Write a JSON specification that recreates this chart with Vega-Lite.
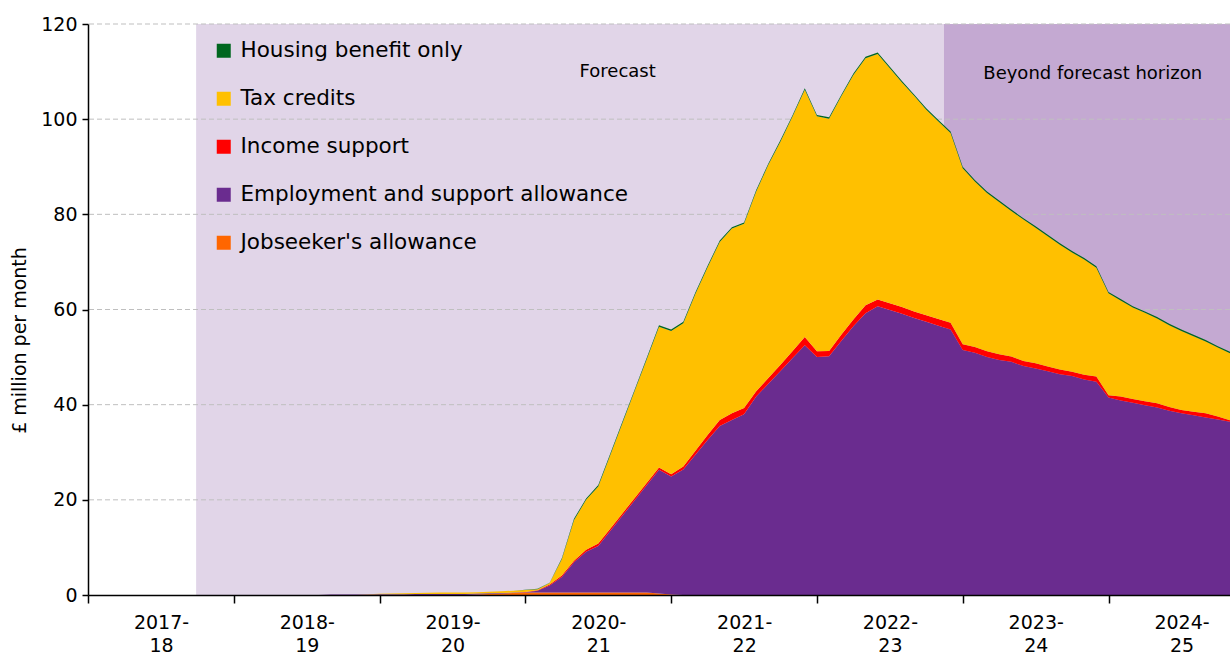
{
  "$schema": "https://vega.github.io/schema/vega-lite/v6.json",
  "width": 1142,
  "height": 571,
  "autosize": {"type": "none"},
  "padding": {"left": 88, "top": 24, "right": 0, "bottom": 62},
  "background": "#ffffff",
  "config": {
    "view": {"stroke": null},
    "font": "DejaVu Sans",
    "text": {"font": "DejaVu Sans"}
  },
  "datasets": {
    "series": [
      {"key": "jsa", "name": "Jobseeker's allowance", "rank": 1},
      {"key": "esa", "name": "Employment and support allowance", "rank": 2},
      {"key": "is", "name": "Income support", "rank": 3},
      {"key": "tc", "name": "Tax credits", "rank": 4},
      {"key": "hb", "name": "Housing benefit only", "rank": 5}
    ],
    "months": [
      {"m":0,"jsa":0,"esa":0,"is":0,"tc":0,"hb":0},
      {"m":1,"jsa":0,"esa":0,"is":0,"tc":0,"hb":0},
      {"m":2,"jsa":0,"esa":0,"is":0,"tc":0,"hb":0},
      {"m":3,"jsa":0,"esa":0,"is":0,"tc":0,"hb":0},
      {"m":4,"jsa":0,"esa":0,"is":0,"tc":0,"hb":0},
      {"m":5,"jsa":0,"esa":0,"is":0,"tc":0,"hb":0},
      {"m":6,"jsa":0,"esa":0,"is":0,"tc":0,"hb":0},
      {"m":7,"jsa":0,"esa":0,"is":0,"tc":0,"hb":0},
      {"m":8,"jsa":0,"esa":0,"is":0,"tc":0,"hb":0},
      {"m":9,"jsa":0,"esa":0,"is":0,"tc":0,"hb":0},
      {"m":10,"jsa":0,"esa":0,"is":0,"tc":0,"hb":0},
      {"m":11,"jsa":0,"esa":0,"is":0,"tc":0,"hb":0},
      {"m":12,"jsa":0,"esa":0,"is":0,"tc":0,"hb":0},
      {"m":13,"jsa":0,"esa":0,"is":0,"tc":0,"hb":0},
      {"m":14,"jsa":0,"esa":0,"is":0,"tc":0,"hb":0},
      {"m":15,"jsa":0,"esa":0,"is":0,"tc":0,"hb":0},
      {"m":16,"jsa":0,"esa":0,"is":0,"tc":0,"hb":0},
      {"m":17,"jsa":0,"esa":0,"is":0,"tc":0,"hb":0},
      {"m":18,"jsa":0,"esa":0,"is":0,"tc":0,"hb":0},
      {"m":19,"jsa":0,"esa":0,"is":0,"tc":0,"hb":0},
      {"m":20,"jsa":0,"esa":0.1,"is":0,"tc":0,"hb":0},
      {"m":21,"jsa":0,"esa":0.1,"is":0,"tc":0,"hb":0},
      {"m":22,"jsa":0,"esa":0.1,"is":0,"tc":0,"hb":0},
      {"m":23,"jsa":0,"esa":0.1,"is":0,"tc":0.05,"hb":0},
      {"m":24,"jsa":0,"esa":0.15,"is":0,"tc":0.1,"hb":0},
      {"m":25,"jsa":0,"esa":0.15,"is":0,"tc":0.15,"hb":0},
      {"m":26,"jsa":0,"esa":0.15,"is":0,"tc":0.2,"hb":0},
      {"m":27,"jsa":0,"esa":0.2,"is":0,"tc":0.2,"hb":0},
      {"m":28,"jsa":0,"esa":0.2,"is":0,"tc":0.25,"hb":0},
      {"m":29,"jsa":0,"esa":0.2,"is":0,"tc":0.3,"hb":0},
      {"m":30,"jsa":0,"esa":0.2,"is":0,"tc":0.3,"hb":0},
      {"m":31,"jsa":0,"esa":0.2,"is":0,"tc":0.3,"hb":0},
      {"m":32,"jsa":0.1,"esa":0.2,"is":0,"tc":0.3,"hb":0},
      {"m":33,"jsa":0.2,"esa":0.15,"is":0,"tc":0.35,"hb":0},
      {"m":34,"jsa":0.3,"esa":0.1,"is":0,"tc":0.4,"hb":0},
      {"m":35,"jsa":0.4,"esa":0.1,"is":0,"tc":0.4,"hb":0},
      {"m":36,"jsa":0.5,"esa":0.1,"is":0.05,"tc":0.4,"hb":0.05},
      {"m":37,"jsa":0.5,"esa":0.4,"is":0.1,"tc":0.2,"hb":0.1},
      {"m":38,"jsa":0.5,"esa":1.5,"is":0.2,"tc":0.3,"hb":0.1},
      {"m":39,"jsa":0.5,"esa":3.3,"is":0.3,"tc":3.4,"hb":0.2},
      {"m":40,"jsa":0.5,"esa":6.4,"is":0.3,"tc":8.5,"hb":0.3},
      {"m":41,"jsa":0.5,"esa":8.6,"is":0.4,"tc":10.5,"hb":0.3},
      {"m":42,"jsa":0.5,"esa":9.8,"is":0.5,"tc":12.0,"hb":0.3},
      {"m":43,"jsa":0.5,"esa":13.0,"is":0.5,"tc":15.5,"hb":0.3},
      {"m":44,"jsa":0.5,"esa":16.2,"is":0.5,"tc":19.0,"hb":0.3},
      {"m":45,"jsa":0.5,"esa":19.4,"is":0.5,"tc":22.5,"hb":0.3},
      {"m":46,"jsa":0.5,"esa":22.6,"is":0.5,"tc":26.0,"hb":0.3},
      {"m":47,"jsa":0.3,"esa":26.0,"is":0.5,"tc":29.6,"hb":0.3},
      {"m":48,"jsa":0.1,"esa":24.8,"is":0.5,"tc":30.1,"hb":0.3},
      {"m":49,"jsa":0,"esa":26.4,"is":0.6,"tc":30.1,"hb":0.3},
      {"m":50,"jsa":0,"esa":29.5,"is":0.8,"tc":33.0,"hb":0.3},
      {"m":51,"jsa":0,"esa":32.6,"is":1.0,"tc":35.3,"hb":0.3},
      {"m":52,"jsa":0,"esa":35.5,"is":1.3,"tc":37.4,"hb":0.3},
      {"m":53,"jsa":0,"esa":36.8,"is":1.4,"tc":38.8,"hb":0.3},
      {"m":54,"jsa":0,"esa":38.0,"is":1.3,"tc":38.7,"hb":0.3},
      {"m":55,"jsa":0,"esa":41.7,"is":1.1,"tc":42.0,"hb":0.3},
      {"m":56,"jsa":0,"esa":44.4,"is":1.2,"tc":44.8,"hb":0.3},
      {"m":57,"jsa":0,"esa":47.1,"is":1.3,"tc":46.9,"hb":0.3},
      {"m":58,"jsa":0,"esa":49.8,"is":1.5,"tc":49.3,"hb":0.3},
      {"m":59,"jsa":0,"esa":52.5,"is":1.7,"tc":52.0,"hb":0.3},
      {"m":60,"jsa":0,"esa":50.0,"is":1.2,"tc":49.4,"hb":0.3},
      {"m":61,"jsa":0,"esa":50.2,"is":1.1,"tc":48.8,"hb":0.3},
      {"m":62,"jsa":0,"esa":53.4,"is":1.3,"tc":50.1,"hb":0.3},
      {"m":63,"jsa":0,"esa":56.5,"is":1.4,"tc":51.4,"hb":0.3},
      {"m":64,"jsa":0,"esa":59.2,"is":1.7,"tc":51.9,"hb":0.3},
      {"m":65,"jsa":0,"esa":60.7,"is":1.4,"tc":51.6,"hb":0.3},
      {"m":66,"jsa":0,"esa":59.9,"is":1.4,"tc":49.4,"hb":0.3},
      {"m":67,"jsa":0,"esa":59.1,"is":1.4,"tc":47.2,"hb":0.3},
      {"m":68,"jsa":0,"esa":58.2,"is":1.4,"tc":45.3,"hb":0.3},
      {"m":69,"jsa":0,"esa":57.4,"is":1.4,"tc":43.2,"hb":0.3},
      {"m":70,"jsa":0,"esa":56.6,"is":1.4,"tc":41.5,"hb":0.3},
      {"m":71,"jsa":0,"esa":55.8,"is":1.4,"tc":39.9,"hb":0.3},
      {"m":72,"jsa":0,"esa":51.5,"is":1.2,"tc":37.0,"hb":0.3},
      {"m":73,"jsa":0,"esa":50.9,"is":1.2,"tc":34.8,"hb":0.3},
      {"m":74,"jsa":0,"esa":50.0,"is":1.2,"tc":33.3,"hb":0.3},
      {"m":75,"jsa":0,"esa":49.4,"is":1.2,"tc":32.0,"hb":0.3},
      {"m":76,"jsa":0,"esa":49.0,"is":1.1,"tc":30.6,"hb":0.3},
      {"m":77,"jsa":0,"esa":48.1,"is":1.1,"tc":29.7,"hb":0.3},
      {"m":78,"jsa":0,"esa":47.6,"is":1.1,"tc":28.5,"hb":0.3},
      {"m":79,"jsa":0,"esa":47.0,"is":1.0,"tc":27.4,"hb":0.3},
      {"m":80,"jsa":0,"esa":46.4,"is":1.0,"tc":26.2,"hb":0.3},
      {"m":81,"jsa":0,"esa":46.0,"is":0.9,"tc":25.1,"hb":0.3},
      {"m":82,"jsa":0,"esa":45.3,"is":1.0,"tc":24.2,"hb":0.3},
      {"m":83,"jsa":0,"esa":44.8,"is":1.1,"tc":22.9,"hb":0.3},
      {"m":84,"jsa":0,"esa":41.5,"is":0.5,"tc":21.4,"hb":0.3},
      {"m":85,"jsa":0,"esa":40.9,"is":0.8,"tc":20.2,"hb":0.3},
      {"m":86,"jsa":0,"esa":40.4,"is":0.8,"tc":19.2,"hb":0.3},
      {"m":87,"jsa":0,"esa":39.9,"is":0.8,"tc":18.6,"hb":0.3},
      {"m":88,"jsa":0,"esa":39.4,"is":0.9,"tc":17.8,"hb":0.3},
      {"m":89,"jsa":0,"esa":38.7,"is":0.8,"tc":17.2,"hb":0.3},
      {"m":90,"jsa":0,"esa":38.2,"is":0.7,"tc":16.6,"hb":0.3},
      {"m":91,"jsa":0,"esa":37.8,"is":0.7,"tc":15.9,"hb":0.3},
      {"m":92,"jsa":0,"esa":37.3,"is":0.9,"tc":15.1,"hb":0.3},
      {"m":93,"jsa":0,"esa":36.9,"is":0.6,"tc":14.5,"hb":0.3},
      {"m":94,"jsa":0,"esa":36.4,"is":0.3,"tc":14.1,"hb":0.3}
    ]
  },
  "layer": [
    {
      "data": {"values": [{"m": 8.9, "m2": 70.45}]},
      "mark": {"type": "rect", "color": "#E1D5E8"},
      "encoding": {
        "x": {"field": "m", "type": "quantitative"},
        "x2": {"field": "m2"}
      }
    },
    {
      "data": {"values": [{"m": 70.45, "m2": 94}]},
      "mark": {"type": "rect", "color": "#C4A9D2"},
      "encoding": {
        "x": {"field": "m", "type": "quantitative"},
        "x2": {"field": "m2"}
      }
    },
    {
      "data": {"values": [{"value": 20}, {"value": 40}, {"value": 60}, {"value": 80}, {"value": 100}, {"value": 120}]},
      "mark": {"type": "rule", "color": "#BFBFBF", "strokeWidth": 1, "strokeDash": [5, 3]},
      "encoding": {
        "y": {"field": "value", "type": "quantitative"}
      }
    },
    {
      "data": {"name": "months"},
      "transform": [
        {"fold": ["jsa", "esa", "is", "tc", "hb"], "as": ["key", "value"]},
        {"lookup": "key", "from": {"data": {"name": "series"}, "key": "key", "fields": ["name", "rank"]}}
      ],
      "mark": {"type": "area", "interpolate": "linear"},
      "encoding": {
        "x": {
          "field": "m", "type": "quantitative",
          "scale": {"domain": [0, 94], "nice": false, "zero": false},
          "axis": {
            "title": null,
            "values": [0, 12, 24, 36, 48, 60, 72, 84],
            "labelExpr": "[toString(2017 + datum.value/12) + '-', toString(18 + datum.value/12)]",
            "labelOffset": 73,
            "labelFlush": false,
            "labelBound": false,
            "labelOverlap": false,
            "labelFont": "DejaVu Sans",
            "labelFontSize": 19,
            "labelColor": "#000000",
            "labelLineHeight": 23,
            "labelPadding": 10,
            "tickSize": 8,
            "tickColor": "#000000",
            "tickWidth": 1.5,
            "domainColor": "#000000",
            "domainWidth": 1.5,
            "grid": false,
            "zindex": 1
          }
        },
        "y": {
          "field": "value", "type": "quantitative", "stack": "zero",
          "scale": {"domain": [0, 120], "nice": false},
          "axis": {
            "title": "£ million per month",
            "titleFont": "DejaVu Sans",
            "titleFontSize": 19,
            "titleFontWeight": "normal",
            "titleColor": "#000000",
            "titleX": -59,
            "titleY": 316,
            "values": [0, 20, 40, 60, 80, 100, 120],
            "labelFont": "DejaVu Sans",
            "labelFontSize": 19,
            "labelColor": "#000000",
            "labelPadding": 5,
            "tickSize": 6,
            "tickColor": "#000000",
            "tickWidth": 1.5,
            "domainColor": "#000000",
            "domainWidth": 1.5,
            "grid": false,
            "zindex": 1
          }
        },
        "color": {
          "field": "name", "type": "nominal",
          "scale": {
            "domain": ["Housing benefit only", "Tax credits", "Income support", "Employment and support allowance", "Jobseeker's allowance"],
            "range": ["#00661F", "#FFC000", "#FF0000", "#6A2C8F", "#FF6600"]
          },
          "legend": {
            "title": null,
            "orient": "none",
            "legendX": 125,
            "legendY": 16,
            "padding": 0,
            "symbolType": "square",
            "symbolSize": 196,
            "symbolStrokeWidth": 0,
            "symbolOpacity": 1,
            "labelFont": "DejaVu Sans",
            "labelFontSize": 21.5,
            "labelColor": "#000000",
            "labelOffset": 6,
            "rowPadding": 25,
            "labelLimit": 600
          }
        },
        "order": {"field": "rank", "type": "quantitative", "sort": "ascending"}
      }
    },
    {
      "data": {"values": [
        {"m": 43.6, "value": 110, "label": "Forecast"},
        {"m": 82.7, "value": 109.5, "label": "Beyond forecast horizon"}
      ]},
      "mark": {"type": "text", "fontSize": 18, "color": "#000000", "align": "center", "baseline": "middle", "font": "DejaVu Sans"},
      "encoding": {
        "x": {"field": "m", "type": "quantitative"},
        "y": {"field": "value", "type": "quantitative"},
        "text": {"field": "label"}
      }
    }
  ]
}
